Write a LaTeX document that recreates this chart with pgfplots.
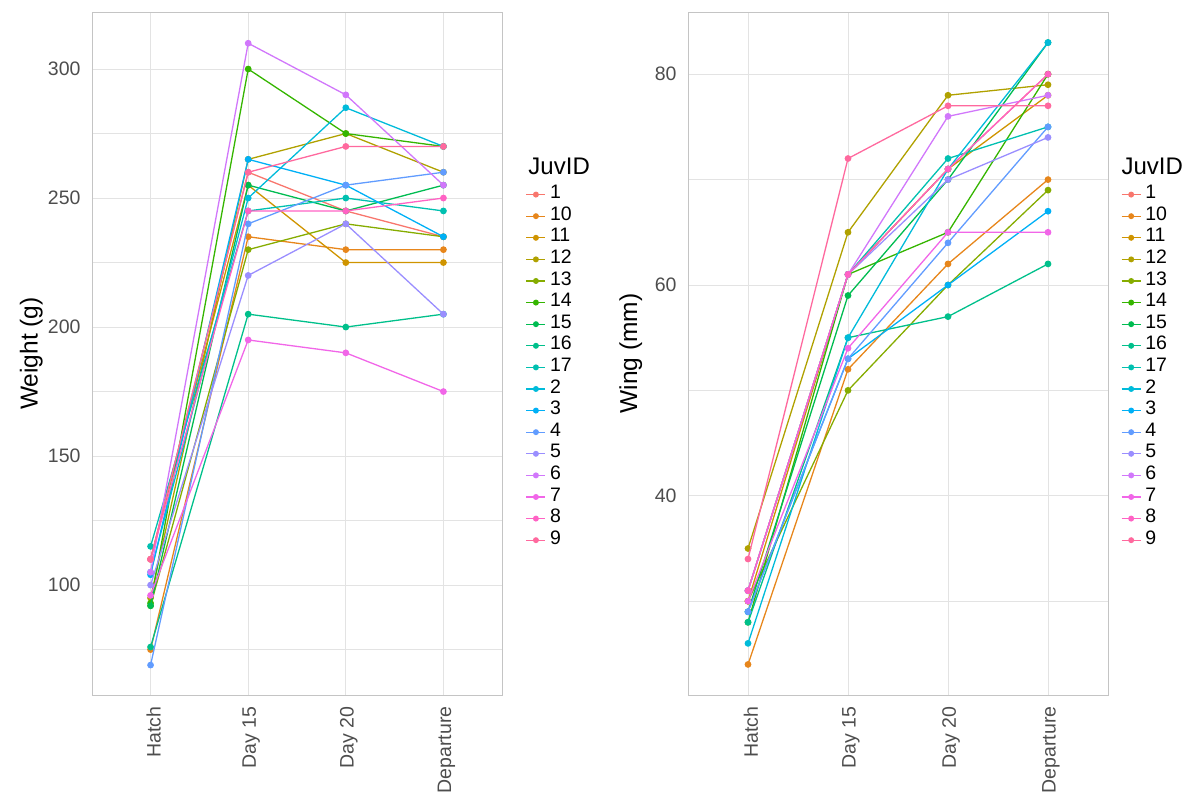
\documentclass[border=0pt]{standalone}
\usepackage{fontspec}
\setmainfont{Liberation Sans}
\usepackage{pgfplots}
\usepackage{pgfplotstable}
\pgfplotsset{compat=1.18}
\definecolor{c1}{HTML}{F8766D}
\definecolor{c10}{HTML}{E7861B}
\definecolor{c11}{HTML}{CF9400}
\definecolor{c12}{HTML}{B0A100}
\definecolor{c13}{HTML}{86AC00}
\definecolor{c14}{HTML}{35B500}
\definecolor{c15}{HTML}{00BC51}
\definecolor{c16}{HTML}{00C08B}
\definecolor{c17}{HTML}{00C0B0}
\definecolor{c2}{HTML}{00BBDA}
\definecolor{c3}{HTML}{00B0F6}
\definecolor{c4}{HTML}{619CFF}
\definecolor{c5}{HTML}{9A8EFF}
\definecolor{c6}{HTML}{D177FB}
\definecolor{c7}{HTML}{F166E8}
\definecolor{c8}{HTML}{FF62C4}
\definecolor{c9}{HTML}{FF699E}
\definecolor{tickgray}{HTML}{4D4D4D}
\definecolor{gridc}{HTML}{E3E3E3}
\definecolor{borderc}{HTML}{C4C4C4}

\pgfplotstableread{
x s1 s2 s3 s4 s5 s6 s7 s8 s9 s10 s11 s12 s13 s14 s15 s16 s17
0 110 105 104 69 100 105 96 110 110 75 110 95 92 93 92 76 115
1 260 250 265 240 220 310 195 245 260 235 255 265 230 300 255 205 245
2 245 285 255 255 240 290 190 245 270 230 225 275 240 275 245 200 250
3 235 270 235 260 205 255 175 250 270 230 225 260 235 270 255 205 245
}\weight

\pgfplotstableread{
x s1 s2 s3 s4 s5 s6 s7 s8 s9 s10 s11 s12 s13 s14 s15 s16 s17
0 31 26 29 29 31 31 30 31 34 24 30 35 30 28 29 28 31
1 61 55 53 53 61 61 54 61 72 52 61 65 50 61 59 55 61
2 71 71 60 64 70 76 65 71 77 62 71 78 60 65 70 57 72
3 80 83 67 75 74 78 65 80 77 70 78 79 69 80 83 62 75
}\wing

\pgfplotsset{
  juv/.style={
    scale only axis,
    clip mode=individual,
    xmin=-0.6, xmax=3.6,
    xtick={0,1,2,3},
    xticklabels={Hatch,Day 15,Day 20,Departure},
    xticklabel style={rotate=90, anchor=east, font=\fontsize{19.5}{20}\selectfont, text=tickgray, xshift=-8pt, yshift=-3pt},
    yticklabel style={font=\fontsize{19.5}{20}\selectfont, text=tickgray, xshift=-8pt},
    /pgf/number format/assume math mode=true,
    major tick length=0pt, minor tick length=0pt,
    xmajorgrids, ymajorgrids, yminorgrids,
    major grid style={draw=gridc, line width=0.9pt},
    minor grid style={draw=gridc, line width=0.5pt},
    axis line style={draw=borderc, line width=0.7pt},
    ylabel style={font=\fontsize{24.5}{25}\selectfont, anchor=center},
    legend cell align=left,
    legend style={draw=none, fill=none, inner sep=0pt, outer sep=0pt, row sep=0pt,
      font=\fontsize{19.5}{20}\selectfont,
      nodes={inner xsep=4pt, inner ysep=0pt, text height=15pt, text depth=6.6pt}},
    legend image code/.code={\draw[#1, mark repeat=2, mark phase=2, mark size=2.3pt] plot coordinates {(0pt,0pt) (9.5pt,0pt) (19pt,0pt)};},
    every axis plot/.append style={line width=1.3pt, mark=*, mark size=2.7pt, mark options={solid}},
  }
}

\begin{document}
\begin{tikzpicture}
\path[use as bounding box] (0pt,0pt) rectangle (1200pt,-796pt);
\begin{axis}[juv,
  at={(92pt,-695pt)}, anchor=south west,
  width=410pt, height=683pt,
  ymin=57.4, ymax=322.1,
  ytick={100,150,200,250,300},
  minor ytick={75,125,175,225,275},
  ylabel={Weight (g)},
  ylabel style={at={(axis description cs:-0.148,0.5)}},
  legend style={at={(axis description cs:1.058,0.7485)}, anchor=north west},
]
\pgfplotsinvokeforeach{1,10,11,12,13,14,15,16,17,2,3,4,5,6,7,8,9}{
  \addplot[color=c#1] table[x=x, y=s#1] {\weight};
  \addlegendentry{#1}
}
\node[anchor=west, font=\fontsize{24}{24}\selectfont] at (axis description cs:1.056,0.774) {JuvID};
\end{axis}

\begin{axis}[juv,
  at={(688pt,-695pt)}, anchor=south west,
  width=420pt, height=683pt,
  ymin=21.1, ymax=85.9,
  ytick={40,60,80},
  minor ytick={30,50,70},
  ylabel={Wing (mm)},
  ylabel style={at={(axis description cs:-0.136,0.5)}},
  legend style={at={(axis description cs:1.031,0.7485)}, anchor=north west},
]
\pgfplotsinvokeforeach{1,10,11,12,13,14,15,16,17,2,3,4,5,6,7,8,9}{
  \addplot[color=c#1] table[x=x, y=s#1] {\wing};
  \addlegendentry{#1}
}
\node[anchor=west, font=\fontsize{24}{24}\selectfont] at (axis description cs:1.024,0.774) {JuvID};
\end{axis}
\end{tikzpicture}
\end{document}
